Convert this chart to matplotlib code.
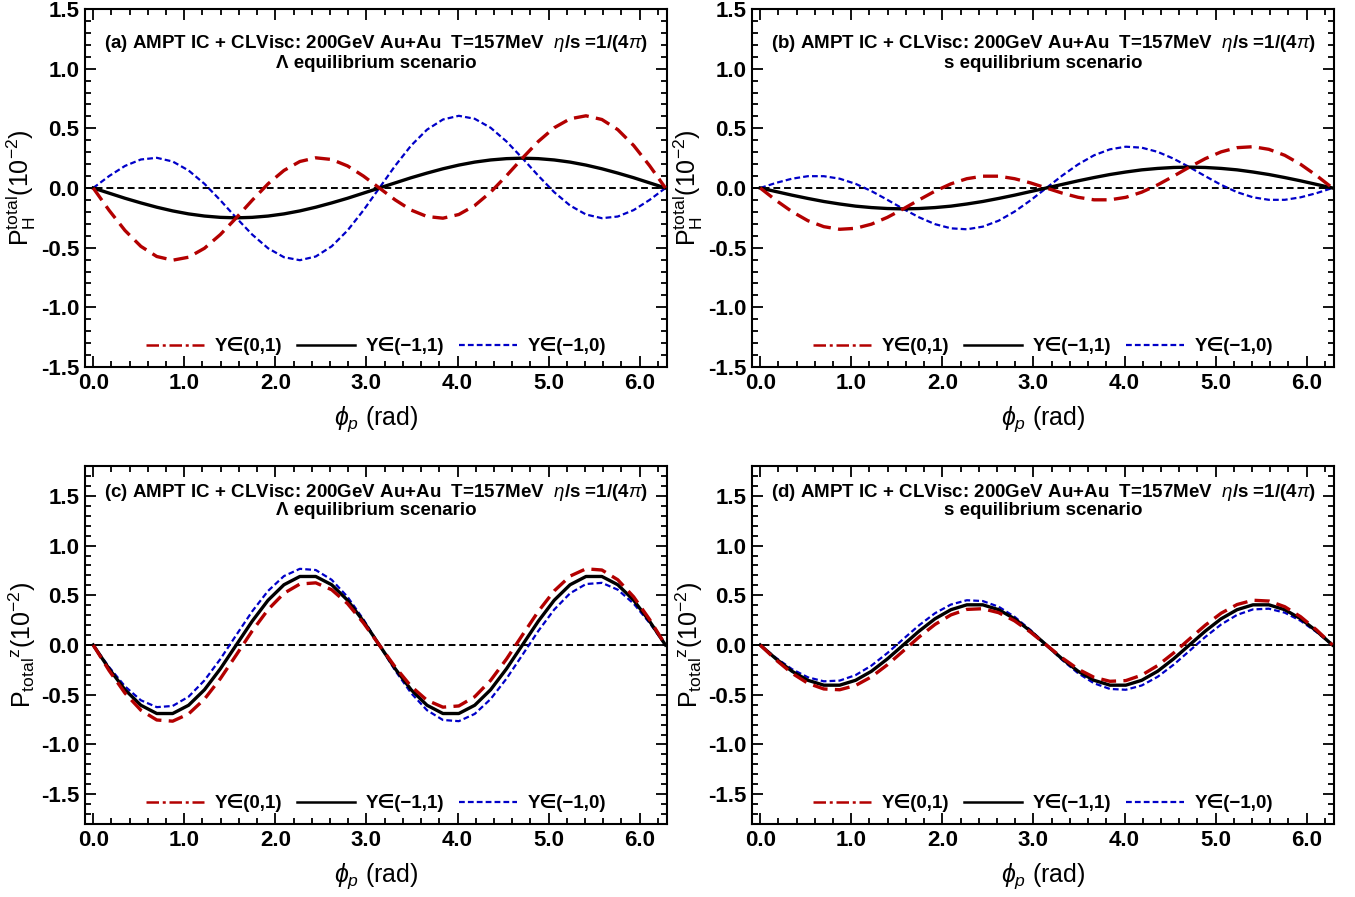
import numpy as np
import matplotlib
matplotlib.use("Agg")
import matplotlib.pyplot as plt
from matplotlib.lines import Line2D
from matplotlib.ticker import MultipleLocator, FormatStrFormatter

# ---------------- data ----------------
phi = [0.0, 0.1745, 0.3491, 0.5236, 0.6981, 0.8727, 1.0472, 1.2217, 1.3963,
       1.5708, 1.7453, 1.9199, 2.0944, 2.2689, 2.4435, 2.6180, 2.7925, 2.9671,
       3.1416, 3.3161, 3.4907, 3.6652, 3.8397, 4.0143, 4.1888, 4.3633, 4.5379,
       4.7124, 4.8869, 5.0615, 5.2360, 5.4105, 5.5851, 5.7596, 5.9341, 6.1087,
       6.2832]

# (a) P_H^total, Lambda equilibrium
a_y01 = [0, -0.187, -0.356, -0.489, -0.574, -0.605, -0.580, -0.505, -0.390,
         -0.250, -0.103, 0.035, 0.147, 0.222, 0.253, 0.239, 0.185, 0.100,
         0, -0.100, -0.185, -0.239, -0.253, -0.222, -0.147, -0.035, 0.103,
         0.250, 0.390, 0.505, 0.580, 0.605, 0.574, 0.489, 0.356, 0.187, 0]
a_ym11 = [0, -0.043, -0.086, -0.125, -0.161, -0.192, -0.217, -0.235, -0.246,
          -0.250, -0.246, -0.235, -0.217, -0.192, -0.161, -0.125, -0.086, -0.043,
          0, 0.043, 0.086, 0.125, 0.161, 0.192, 0.217, 0.235, 0.246,
          0.250, 0.246, 0.235, 0.217, 0.192, 0.161, 0.125, 0.086, 0.043, 0]
a_ym10 = [0, 0.100, 0.185, 0.239, 0.253, 0.222, 0.147, 0.035, -0.103,
          -0.250, -0.390, -0.505, -0.580, -0.605, -0.574, -0.489, -0.356, -0.187,
          0, 0.187, 0.356, 0.489, 0.574, 0.605, 0.580, 0.505, 0.390,
          0.250, 0.103, -0.035, -0.147, -0.222, -0.253, -0.239, -0.185, -0.100, 0]

# (b) P_H^total, s equilibrium
b_y01 = [0, -0.104, -0.198, -0.274, -0.324, -0.346, -0.338, -0.303, -0.246,
         -0.175, -0.099, -0.026, 0.035, 0.078, 0.099, 0.099, 0.078, 0.043,
         0, -0.043, -0.078, -0.099, -0.099, -0.078, -0.035, 0.026, 0.099,
         0.175, 0.246, 0.303, 0.338, 0.346, 0.324, 0.274, 0.198, 0.104, 0]
b_ym11 = [0, -0.030, -0.060, -0.0875, -0.113, -0.134, -0.152, -0.164, -0.172,
          -0.175, -0.172, -0.164, -0.152, -0.134, -0.113, -0.0875, -0.060, -0.030,
          0, 0.030, 0.060, 0.0875, 0.113, 0.134, 0.152, 0.164, 0.172,
          0.175, 0.172, 0.164, 0.152, 0.134, 0.113, 0.0875, 0.060, 0.030, 0]
b_ym10 = [0, 0.043, 0.078, 0.099, 0.099, 0.078, 0.035, -0.026, -0.099,
          -0.175, -0.246, -0.303, -0.338, -0.346, -0.324, -0.274, -0.198, -0.104,
          0, 0.104, 0.198, 0.274, 0.324, 0.346, 0.338, 0.303, 0.246,
          0.175, 0.099, 0.026, -0.035, -0.078, -0.099, -0.099, -0.078, -0.043, 0]

# (c) P_total^z, Lambda equilibrium
c_y01 = [0, -0.257, -0.484, -0.656, -0.754, -0.766, -0.693, -0.544, -0.338,
         -0.100, 0.141, 0.356, 0.520, 0.613, 0.625, 0.556, 0.416, 0.222,
         0, -0.222, -0.416, -0.556, -0.625, -0.613, -0.520, -0.356, -0.141,
         0.100, 0.338, 0.544, 0.693, 0.766, 0.754, 0.656, 0.484, 0.257, 0]
c_ym11 = [0, -0.239, -0.450, -0.606, -0.689, -0.689, -0.606, -0.450, -0.239,
          0, 0.239, 0.450, 0.606, 0.689, 0.689, 0.606, 0.450, 0.239,
          0, -0.239, -0.450, -0.606, -0.689, -0.689, -0.606, -0.450, -0.239,
          0, 0.239, 0.450, 0.606, 0.689, 0.689, 0.606, 0.450, 0.239, 0]
c_ym10 = [0, -0.222, -0.416, -0.556, -0.625, -0.613, -0.520, -0.356, -0.141,
          0.100, 0.338, 0.544, 0.693, 0.766, 0.754, 0.656, 0.484, 0.257,
          0, -0.257, -0.484, -0.656, -0.754, -0.766, -0.693, -0.544, -0.338,
          -0.100, 0.141, 0.356, 0.520, 0.613, 0.625, 0.556, 0.416, 0.222, 0]

# (d) P_total^z, s equilibrium
d_y01 = [0, -0.151, -0.284, -0.385, -0.442, -0.450, -0.407, -0.320, -0.199,
         -0.060, 0.081, 0.207, 0.303, 0.358, 0.365, 0.325, 0.243, 0.130,
         0, -0.130, -0.243, -0.325, -0.365, -0.358, -0.303, -0.207, -0.081,
         0.060, 0.199, 0.320, 0.407, 0.450, 0.442, 0.385, 0.284, 0.151, 0]
d_ym11 = [0, -0.140, -0.264, -0.355, -0.404, -0.404, -0.355, -0.264, -0.140,
          0, 0.140, 0.264, 0.355, 0.404, 0.404, 0.355, 0.264, 0.140,
          0, -0.140, -0.264, -0.355, -0.404, -0.404, -0.355, -0.264, -0.140,
          0, 0.140, 0.264, 0.355, 0.404, 0.404, 0.355, 0.264, 0.140, 0]
d_ym10 = [0, -0.130, -0.243, -0.325, -0.365, -0.358, -0.303, -0.207, -0.081,
          0.060, 0.199, 0.320, 0.407, 0.450, 0.442, 0.385, 0.284, 0.151,
          0, -0.151, -0.284, -0.385, -0.442, -0.450, -0.407, -0.320, -0.199,
          -0.060, 0.081, 0.207, 0.303, 0.358, 0.365, 0.325, 0.243, 0.130, 0]

legend_labels = ["Y\u2208(0,1)", "Y\u2208(\u22121,1)", "Y\u2208(\u22121,0)"]
xticks = [0.0, 1.0, 2.0, 3.0, 4.0, 5.0, 6.0]

title_line1 = [
    "(a) AMPT IC + CLVisc: 200GeV Au+Au  T=157MeV  $\\it{\\eta}$/s =1/(4$\\it{\\pi}$)",
    "(b) AMPT IC + CLVisc: 200GeV Au+Au  T=157MeV  $\\it{\\eta}$/s =1/(4$\\it{\\pi}$)",
    "(c) AMPT IC + CLVisc: 200GeV Au+Au  T=157MeV  $\\it{\\eta}$/s =1/(4$\\it{\\pi}$)",
    "(d) AMPT IC + CLVisc: 200GeV Au+Au  T=157MeV  $\\it{\\eta}$/s =1/(4$\\it{\\pi}$)",
]
title_line2 = ["\u039b equilibrium scenario", "s equilibrium scenario",
               "\u039b equilibrium scenario", "s equilibrium scenario"]

# ---------------- style ----------------
NARROW = ["Liberation Sans Narrow", "Liberation Sans", "DejaVu Sans"]
plt.rcParams["font.family"] = NARROW
plt.rcParams["mathtext.fontset"] = "custom"
plt.rcParams["mathtext.rm"] = "Liberation Sans"
plt.rcParams["mathtext.it"] = "Liberation Sans:italic"
plt.rcParams["mathtext.bf"] = "Liberation Sans:bold"

RED = "#B30000"
BLUE = "#0000C8"

fig = plt.figure(figsize=(13.55, 8.97), dpi=100)
W, H = 1355.0, 897.0

def axes_box(l, r, t, b):
    return [l / W, 1 - b / H, (r - l) / W, (b - t) / H]

boxes = [axes_box(85, 667, 9, 367), axes_box(752, 1334, 9, 367),
         axes_box(85, 667, 466, 824), axes_box(752, 1334, 466, 824)]

data = [(a_y01, a_ym11, a_ym10), (b_y01, b_ym11, b_ym10),
        (c_y01, c_ym11, c_ym10), (d_y01, d_ym11, d_ym10)]

for i in range(4):
    ax = fig.add_axes(boxes[i])
    y01, ym11, ym10 = data[i]
    ax.axhline(0, color="black", lw=1.4, ls=(0, (3.5, 2.0)), zorder=1)
    ax.plot(phi, ym10, color=BLUE, lw=1.6, ls=(0, (2.6, 1.4)), zorder=3)
    ax.plot(phi, ym11, color="black", lw=2.4, zorder=4)
    ax.plot(phi, y01, color=RED, lw=2.4, ls=(0, (4.5, 2.2)), zorder=5)

    ax.set_xlim(-0.09, 6.30)
    if i < 2:
        ax.set_ylim(-1.5, 1.5)
        ax.set_ylabel("P$_\\mathrm{H}^\\mathrm{total}$(10$^{-2}$)", fontsize=18,
                      family=["Liberation Sans", "DejaVu Sans"], labelpad=2)
        y1, y2 = 0.905, 0.848
    else:
        ax.set_ylim(-1.8, 1.8)
        ax.set_ylabel("P$_\\mathrm{total}$$^\\mathrm{z}$(10$^{-2}$)", fontsize=18,
                      family=["Liberation Sans", "DejaVu Sans"], labelpad=2)
        y1, y2 = 0.927, 0.877
    ax.set_xticks(xticks)
    ax.xaxis.set_major_formatter(FormatStrFormatter("%.1f"))
    ax.xaxis.set_minor_locator(MultipleLocator(0.2))
    ax.yaxis.set_major_locator(MultipleLocator(0.5))
    ax.yaxis.set_major_formatter(FormatStrFormatter("%.1f"))
    ax.yaxis.set_minor_locator(MultipleLocator(0.1))
    ax.tick_params(which="both", direction="in", top=True, right=True,
                   width=1.3, color="black")
    ax.tick_params(which="major", length=8, labelsize=16, pad=4)
    ax.tick_params(which="minor", length=4)
    for lab in ax.get_xticklabels() + ax.get_yticklabels():
        lab.set_fontweight("bold")
    for sp in ax.spines.values():
        sp.set_linewidth(1.5)
    ax.set_xlabel("$\\phi_p$ (rad)", fontsize=18,
                  family=["Liberation Sans", "DejaVu Sans"], labelpad=8)

    ax.text(0.5, y1, title_line1[i], transform=ax.transAxes, ha="center",
            va="center", fontsize=13.5, fontweight="bold")
    ax.text(0.5, y2, title_line2[i], transform=ax.transAxes, ha="center",
            va="center", fontsize=13.5, fontweight="bold")

    handles = [Line2D([], [], color=RED, lw=1.8, ls=(0, (5, 1.5, 1.2, 1.5))),
               Line2D([], [], color="black", lw=1.8),
               Line2D([], [], color=BLUE, lw=1.6, ls=(0, (2.6, 1.4)))]
    ax.legend(handles, legend_labels, loc="lower center", ncol=3,
              bbox_to_anchor=(0.5, -0.015), frameon=False, handlelength=3.1,
              columnspacing=0.8, handletextpad=0.55,
              prop={"weight": "bold", "size": 13.5, "family": NARROW})

fig.savefig("out.png", dpi=100)
